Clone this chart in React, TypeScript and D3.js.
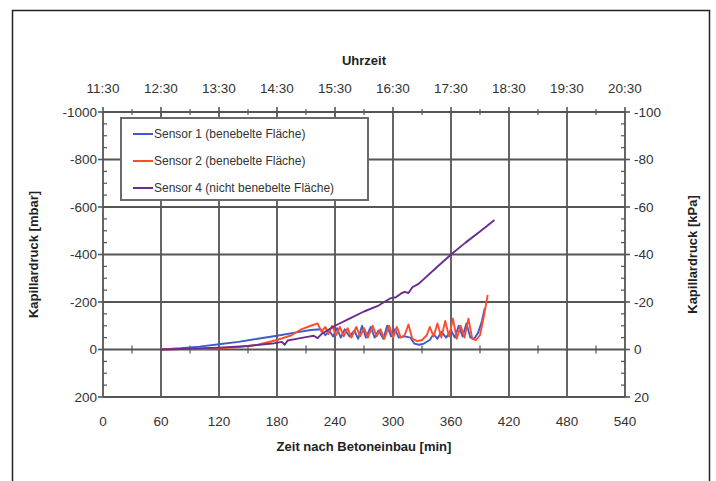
import React, { useEffect, useRef } from 'react';
import * as d3 from 'd3';

// axis values
const minuteTicks = [0, 60, 120, 180, 240, 300, 360, 420, 480, 540];
const clockLabels = ["11:30", "12:30", "13:30", "14:30", "15:30", "16:30", "17:30", "18:30", "19:30", "20:30"];
const mbarTicks = [-1000, -800, -600, -400, -200, 0, 200];
const kpaTicks = [-100, -80, -60, -40, -20, 0, 20];

// Sensor 1 (benebelte Fläche)
const sensor1Time = [60, 80, 100, 120, 140, 160, 180, 200, 215, 225, 230, 234, 238, 242, 246, 250, 255, 260, 264, 268, 272, 277, 281, 285, 290, 294, 298, 302, 306, 312, 318, 322, 327, 332, 338, 342, 346, 350, 355, 360, 364, 368, 372, 376, 380, 384, 388, 392, 395];
const sensor1Value = [0, -5, -12, -22, -32, -45, -58, -72, -82, -85, -60, -80, -55, -90, -50, -85, -55, -80, -45, -100, -50, -95, -50, -80, -45, -100, -55, -85, -50, -55, -50, -25, -20, -25, -40, -65, -45, -75, -50, -80, -50, -100, -55, -110, -50, -45, -70, -120, -175];

// Sensor 2 (benebelte Fläche)
const sensor2Time = [60, 80, 100, 120, 140, 160, 180, 195, 205, 215, 222, 226, 230, 233, 237, 241, 245, 249, 253, 257, 262, 266, 270, 274, 279, 283, 287, 291, 296, 300, 304, 308, 312, 316, 320, 325, 330, 335, 338, 342, 346, 350, 354, 358, 362, 366, 370, 374, 378, 382, 386, 390, 394, 398];
const sensor2Value = [0, -2, -3, -5, -10, -20, -40, -60, -85, -100, -110, -75, -95, -65, -100, -60, -95, -55, -90, -50, -95, -55, -90, -50, -100, -55, -85, -45, -100, -50, -95, -50, -60, -105, -45, -35, -40, -60, -95, -55, -110, -50, -120, -55, -130, -45, -100, -50, -130, -45, -40, -60, -140, -230];

// Sensor 4 (nicht benebelte Fläche)
const sensor4Time = [60, 90, 120, 150, 175, 185, 188, 191, 200, 210, 218, 222, 226, 240, 255, 270, 285, 297, 303, 308, 312, 316, 320, 326, 331, 345, 360, 375, 390, 405];
const sensor4Value = [0, -3, -8, -15, -25, -32, -20, -38, -45, -52, -58, -48, -65, -100, -130, -160, -185, -215, -220, -235, -243, -238, -262, -275, -293, -345, -400, -450, -497, -545];

const seriesNames = ["Sensor 1 (benebelte Fläche)", "Sensor 2 (benebelte Fläche)", "Sensor 4 (nicht benebelte Fläche)"];
const seriesColors = ["#3d5bc9", "#ff4b2e", "#6a2d8e"];

function App() {
  const svgRef = useRef<SVGSVGElement>(null);

  useEffect(() => {
    const width = 716;
    const height = 481;
    const left = 103, right = 625, top = 112, bottom = 397;
    const gridColor = "#555";
    const font = "Arial, 'Liberation Sans', sans-serif";

    const svg = d3.select(svgRef.current);
    svg.selectAll("*").remove();
    svg.attr("width", width).attr("height", height);

    const x = d3.scaleLinear().domain([0, 540]).range([left, right]);
    const y = d3.scaleLinear().domain([-1000, 200]).range([top, bottom]);
    const yk = d3.scaleLinear().domain([-100, 20]).range([top, bottom]);

    // outer frame
    svg.append("rect")
      .attr("x", 12.5).attr("y", 10.5)
      .attr("width", 697).attr("height", 490)
      .attr("fill", "white").attr("stroke", "#222").attr("stroke-width", 1.5);

    // grid
    svg.append("g").selectAll("line")
      .data(minuteTicks)
      .enter().append("line")
      .attr("x1", (d) => x(d)).attr("x2", (d) => x(d))
      .attr("y1", top).attr("y2", bottom)
      .attr("stroke", gridColor).attr("stroke-width", 1.8);

    svg.append("g").selectAll("line")
      .data(mbarTicks)
      .enter().append("line")
      .attr("x1", left).attr("x2", right)
      .attr("y1", (d) => y(d)).attr("y2", (d) => y(d))
      .attr("stroke", gridColor).attr("stroke-width", 1.8);

    // minor ticks
    const halfSteps = minuteTicks.slice(0, -1).map((d) => d + 30);
    svg.append("g").selectAll("line")
      .data(halfSteps)
      .enter().append("line")
      .attr("x1", (d) => x(d)).attr("x2", (d) => x(d))
      .attr("y1", top - 3).attr("y2", top + 3)
      .attr("stroke", gridColor).attr("stroke-width", 1.2);
    svg.append("g").selectAll("line")
      .data(halfSteps)
      .enter().append("line")
      .attr("x1", (d) => x(d)).attr("x2", (d) => x(d))
      .attr("y1", y(0) - 4).attr("y2", y(0) + 4)
      .attr("stroke", gridColor).attr("stroke-width", 1.2);

    const minorMbar = d3.range(-1000, 201, 50).filter((d) => d % 200 !== 0);
    svg.append("g").selectAll("line")
      .data(minorMbar)
      .enter().append("line")
      .attr("x1", left).attr("x2", left + 4)
      .attr("y1", (d) => y(d)).attr("y2", (d) => y(d))
      .attr("stroke", gridColor).attr("stroke-width", 1.2);
    const minorKpa = d3.range(-100, 21, 5).filter((d) => d % 20 !== 0);
    svg.append("g").selectAll("line")
      .data(minorKpa)
      .enter().append("line")
      .attr("x1", right - 4).attr("x2", right)
      .attr("y1", (d) => yk(d)).attr("y2", (d) => yk(d))
      .attr("stroke", gridColor).attr("stroke-width", 1.2);

    // major ticks outside
    svg.append("g").selectAll("line")
      .data(minuteTicks)
      .enter().append("line")
      .attr("x1", (d) => x(d)).attr("x2", (d) => x(d))
      .attr("y1", top - 5).attr("y2", top)
      .attr("stroke", gridColor).attr("stroke-width", 1.6);
    svg.append("g").selectAll("line")
      .data(mbarTicks)
      .enter().append("line")
      .attr("x1", left - 5).attr("x2", left)
      .attr("y1", (d) => y(d)).attr("y2", (d) => y(d))
      .attr("stroke", gridColor).attr("stroke-width", 1.6);
    svg.append("g").selectAll("line")
      .data(kpaTicks)
      .enter().append("line")
      .attr("x1", right).attr("x2", right + 5)
      .attr("y1", (d) => yk(d)).attr("y2", (d) => yk(d))
      .attr("stroke", gridColor).attr("stroke-width", 1.6);

    // tick labels
    const labelStyle = (sel: any) => sel
      .attr("font-family", font).attr("font-size", 13.5).attr("fill", "#333");

    svg.append("g").selectAll("text")
      .data(minuteTicks)
      .enter().append("text")
      .attr("x", (d) => x(d)).attr("y", 426)
      .attr("text-anchor", "middle")
      .call(labelStyle)
      .text((d) => d);

    svg.append("g").selectAll("text")
      .data(minuteTicks)
      .enter().append("text")
      .attr("x", (d) => x(d)).attr("y", 93)
      .attr("text-anchor", "middle")
      .call(labelStyle)
      .text((d, i) => clockLabels[i]);

    svg.append("g").selectAll("text")
      .data(mbarTicks)
      .enter().append("text")
      .attr("x", left - 6).attr("y", (d) => y(d)).attr("dy", "0.35em")
      .attr("text-anchor", "end")
      .call(labelStyle)
      .text((d) => d);

    svg.append("g").selectAll("text")
      .data(kpaTicks)
      .enter().append("text")
      .attr("x", right + 9).attr("y", (d) => yk(d)).attr("dy", "0.35em")
      .attr("text-anchor", "start")
      .call(labelStyle)
      .text((d) => d);

    // axis titles
    const titleStyle = (sel: any) => sel
      .attr("font-family", font).attr("font-size", 13).attr("font-weight", "bold")
      .attr("fill", "#222").attr("text-anchor", "middle");

    svg.append("text").attr("x", (left + right) / 2).attr("y", 65).call(titleStyle).text("Uhrzeit");
    svg.append("text").attr("x", (left + right) / 2).attr("y", 451).call(titleStyle).text("Zeit nach Betoneinbau [min]");
    svg.append("text")
      .attr("transform", `translate(38, ${(top + bottom) / 2}) rotate(-90)`)
      .call(titleStyle).text("Kapillardruck [mbar]");
    svg.append("text")
      .attr("transform", `translate(697, ${(top + bottom) / 2}) rotate(-90)`)
      .call(titleStyle).text("Kapillardruck [kPa]");

    // data lines
    const line = d3.line<[number, number]>()
      .x((d) => x(d[0]))
      .y((d) => y(d[1]));

    const series: [number, number][][] = [
      sensor1Time.map((t, i) => [t, sensor1Value[i]]),
      sensor2Time.map((t, i) => [t, sensor2Value[i]]),
      sensor4Time.map((t, i) => [t, sensor4Value[i]]),
    ];

    svg.append("g").selectAll("path")
      .data(series)
      .enter().append("path")
      .attr("d", (d) => line(d))
      .attr("fill", "none")
      .attr("stroke", (d, i) => seriesColors[i])
      .attr("stroke-width", 1.9)
      .attr("stroke-linejoin", "round");

    // legend
    const legend = svg.append("g");
    legend.append("rect")
      .attr("x", 121).attr("y", 118)
      .attr("width", 247).attr("height", 82)
      .attr("fill", "white").attr("stroke", "#6a6a6a").attr("stroke-width", 2);

    const items = legend.selectAll(".legend")
      .data(seriesNames)
      .enter().append("g")
      .attr("class", "legend")
      .attr("transform", (d, i) => `translate(133, ${134 + i * 27})`);

    items.append("line")
      .attr("x1", 0).attr("x2", 20)
      .attr("stroke", (d, i) => seriesColors[i])
      .attr("stroke-width", 2);

    items.append("text")
      .attr("x", 21).attr("dy", "0.35em")
      .attr("font-family", font).attr("font-size", 12).attr("fill", "#333")
      .text((d) => d);
  }, []);

  return (
    <svg ref={svgRef} style={{ position: "absolute", left: 0, top: 0 }}></svg>
  );
}

export default App;
